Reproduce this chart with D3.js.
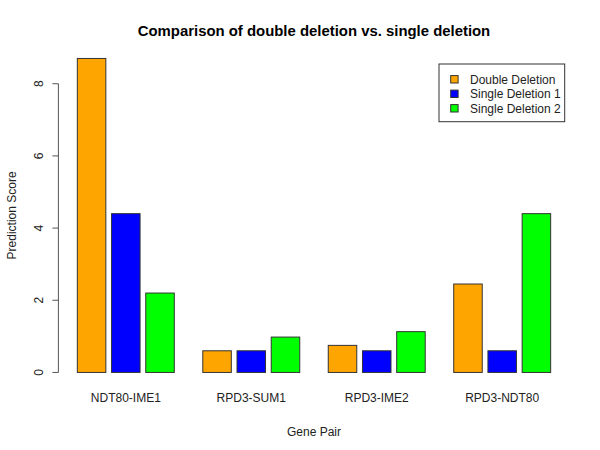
<!DOCTYPE html>
<html>
<head>
<meta charset="utf-8">
<script src="https://cdn.jsdelivr.net/npm/d3@7"></script>
<style>
  body { margin: 0; background: #fff; }
  text { font-family: "Liberation Sans", Arial, sans-serif; }
</style>
</head>
<body>
<div id="container"></div>
<script>
/* DATA */
const genePairs = ["NDT80-IME1", "RPD3-SUM1", "RPD3-IME2", "RPD3-NDT80"];
const seriesNames = ["Double Deletion", "Single Deletion 1", "Single Deletion 2"];
const doubleDeletion = [8.7, 0.6, 0.75, 2.45];
const singleDeletion1 = [4.4, 0.6, 0.6, 0.6];
const singleDeletion2 = [2.2, 0.98, 1.13, 4.4];
const yTicks = [0, 2, 4, 6, 8];

const seriesColors = ["orange", "blue", "#00ff00"];
const series = [doubleDeletion, singleDeletion1, singleDeletion2];

/* CONSTANTS */
const width = 600, height = 450;
const plot = { left: 58.4, right: 569.6, top: 45.9, bottom: 385 };

const svg = d3.select("#container")
  .append("svg")
  .attr("width", width)
  .attr("height", height);

// bar layout like R barplot(beside=TRUE, space=c(0.2,1))
const rows = [];
let pos = 0;
genePairs.forEach((g, gi) => {
  pos += 1;
  series.forEach((s, si) => {
    if (si > 0) pos += 0.2;
    rows.push({ group: g, gi, si, value: s[gi], x0: pos, x1: pos + 1 });
    pos += 1;
  });
});
const xMin = 1, xMax = pos;
const xPad = (xMax - xMin) * 0.04;

const x = d3.scaleLinear()
  .domain([xMin - xPad, xMax + xPad])
  .range([plot.left, plot.right]);

const yMax = d3.max(series.flat());
const yPad = yMax * 0.04;
const y = d3.scaleLinear()
  .domain([-yPad, yMax + yPad])
  .range([plot.bottom, plot.top]);

// BARS
svg.selectAll("rect.bar")
  .data(rows)
  .join("rect")
  .attr("class", "bar")
  .attr("x", d => x(d.x0))
  .attr("width", d => x(d.x1) - x(d.x0))
  .attr("y", d => y(d.value))
  .attr("height", d => y(0) - y(d.value))
  .attr("fill", d => seriesColors[d.si])
  .attr("stroke", "#333")
  .attr("stroke-width", 1);

// Y AXIS
const yAxis = svg.append("g").attr("transform", `translate(${plot.left},0)`);
yAxis.append("line")
  .attr("x1", 0).attr("x2", 0)
  .attr("y1", y(yTicks[0])).attr("y2", y(yTicks[yTicks.length - 1]))
  .attr("stroke", "#555");
yAxis.selectAll("line.tick")
  .data(yTicks)
  .join("line")
  .attr("class", "tick")
  .attr("x1", -6).attr("x2", 0)
  .attr("y1", d => y(d)).attr("y2", d => y(d))
  .attr("stroke", "#555");
yAxis.selectAll("text")
  .data(yTicks)
  .join("text")
  .attr("transform", d => `translate(-15,${y(d)}) rotate(-90)`)
  .attr("text-anchor", "middle")
  .attr("font-size", 12)
  .attr("fill", "#222")
  .text(d => d);

// CATEGORY LABELS
svg.selectAll("text.cat")
  .data(genePairs)
  .join("text")
  .attr("class", "cat")
  .attr("x", (d, i) => {
    const g = rows.filter(r => r.gi === i);
    return x((g[0].x0 + g[g.length - 1].x1) / 2);
  })
  .attr("y", 402)
  .attr("text-anchor", "middle")
  .attr("font-size", 12)
  .attr("fill", "#222")
  .text(d => d);

// TITLES
const cx = (plot.left + plot.right) / 2;
svg.append("text")
  .attr("x", cx).attr("y", 36)
  .attr("text-anchor", "middle")
  .attr("font-size", 14.9)
  .attr("font-weight", "bold")
  .text("Comparison of double deletion vs. single deletion");

svg.append("text")
  .attr("x", cx).attr("y", 436)
  .attr("text-anchor", "middle")
  .attr("font-size", 12)
  .attr("fill", "#222")
  .text("Gene Pair");

svg.append("text")
  .attr("transform", `translate(16,${(plot.top + plot.bottom) / 2}) rotate(-90)`)
  .attr("text-anchor", "middle")
  .attr("font-size", 12)
  .attr("fill", "#222")
  .text("Prediction Score");

// LEGEND
const legend = svg.append("g").attr("transform", "translate(439,64)");
legend.append("rect")
  .attr("width", 125.7).attr("height", 57.7)
  .attr("fill", "#fff")
  .attr("stroke", "#333");
const items = legend.selectAll("g.item")
  .data(seriesNames)
  .join("g")
  .attr("class", "item")
  .attr("transform", (d, i) => `translate(0,${15.3 + i * 14.5})`);
items.append("rect")
  .attr("x", 11.7).attr("y", -3.7)
  .attr("width", 7.4).attr("height", 7.4)
  .attr("fill", (d, i) => seriesColors[i])
  .attr("stroke", "#333");
items.append("text")
  .attr("x", 31)
  .attr("y", 4.3)
  .attr("font-size", 12)
  .attr("fill", "#222")
  .text(d => d);
</script>
</body>
</html>
